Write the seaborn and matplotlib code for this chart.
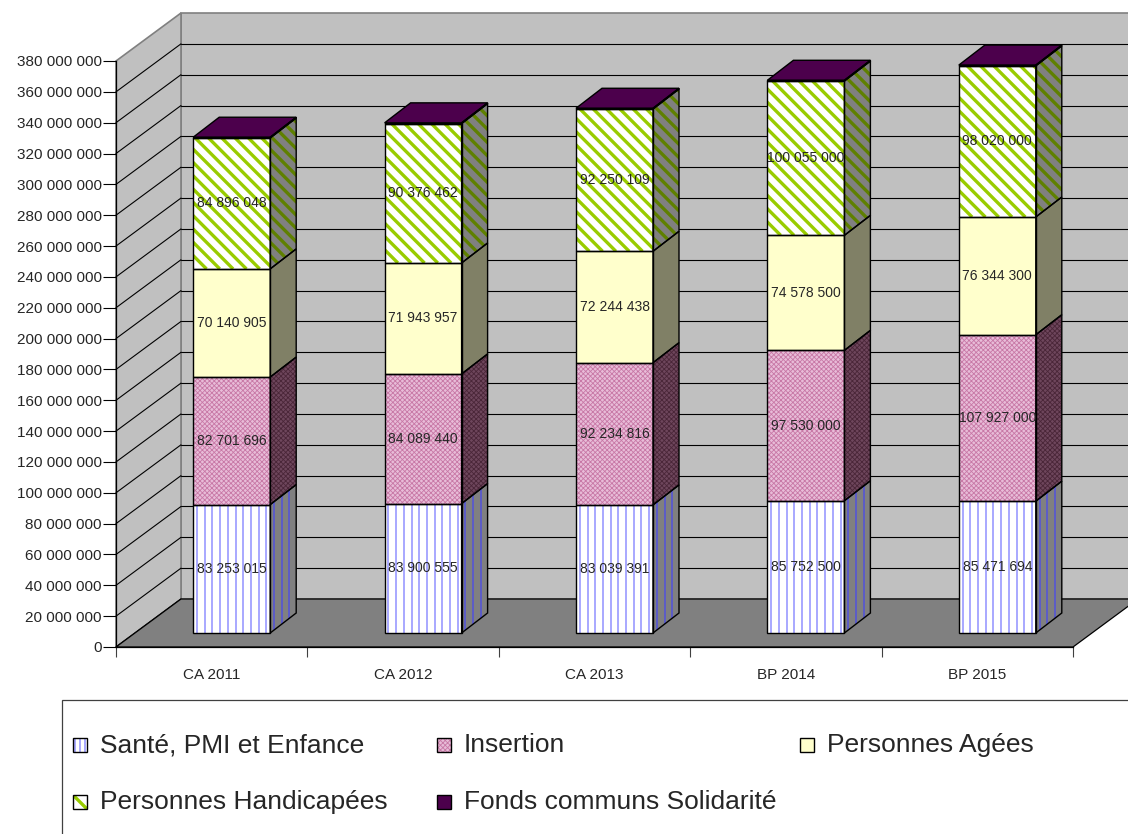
import numpy as np
import matplotlib
matplotlib.use("Agg")
import matplotlib.pyplot as plt
import seaborn as sns
from matplotlib.patches import Polygon, Rectangle
from matplotlib.collections import LineCollection

# data
categories = ["CA 2011", "CA 2012", "CA 2013", "BP 2014", "BP 2015"]
sante = [83253015, 83900555, 83039391, 85752500, 85471694]
insertion = [82701696, 84089440, 92234816, 97530000, 107927000]
agees = [70140905, 71943957, 72244438, 74578500, 76344300]
handicapees = [84896048, 90376462, 92250109, 100055000, 98020000]
fonds = [500000, 500000, 500000, 500000, 500000]
series_names = ["Santé, PMI et Enfance", "Insertion", "Personnes Agées",
                "Personnes Handicapées", "Fonds communs Solidarité"]
y_ticks = np.arange(0, 380000001, 20000000)

# look of each series: front colour, side colour, pattern, pattern colours
styles = [
    dict(fc="white", side="#808080", pat="|", pc="#a8a8ff", spc="#5c5cc8", lw=1.4, per=7.7),
    dict(fc="#e8bcd8", side="#6e465c", pat="xxxxxxx", pc="#c878a6", spc="#4a2638"),
    dict(fc="#ffffcc", side="#808066", pat=None),
    dict(fc="white", side="#808080", pat="\\", pc="#99cc00", spc="#5f8000", lw=2.4, per=13.3),
    dict(fc="#4c004c", side="#2a002a", pat=None),
]

sns.set_style("white")
plt.rcParams["font.family"] = ["Liberation Sans", "DejaVu Sans"]
plt.rcParams["hatch.linewidth"] = 0.6

W, H = 1128, 834
fig = plt.figure(figsize=(W / 100, H / 100), dpi=100)
AX_L, AX_R, AX_B, AX_T = 116, 1073, 647, 61
ax = fig.add_axes([AX_L / W, 1 - AX_B / H, (AX_R - AX_L) / W, (AX_B - AX_T) / H])
ux = 5 / (AX_R - AX_L)
uy = 380e6 / (AX_B - AX_T)

# 3d offsets in pixels -> data units
WDX, WDY = 65 * ux, 48 * uy
FDX, FDY = 20 * ux, 14 * uy
BDX, BDY = 26 * ux, 20 * uy
BAR_W = 77 * ux


def stripes(a, clip, xy, kind, color, lw, per, sx, sy, z):
    xs = [p[0] for p in xy]
    ys = [p[1] for p in xy]
    x0, x1, y0, y1 = min(xs), max(xs), min(ys), max(ys)
    segs = []
    if kind == "|":
        for x in np.arange(x0 + per * sx / 2, x1, per * sx):
            segs.append([(x, y0), (x, y1)])
    else:
        hpx = (y1 - y0) / sy
        for c in np.arange(x0 - hpx * sx, x1, per * sx):
            segs.append([(c, y1), (c + hpx * sx, y0)])
    lc = LineCollection(segs, colors=color, linewidths=lw, zorder=z)
    a.add_collection(lc, autolim=False)
    lc.set_clip_box(None)
    lc.set_clip_path(clip)


def face(a, xy, fc, st, pc_key, sx, sy, z):
    hatch = st["pat"] if st["pat"] not in (None, "|", "\\") else None
    p = Polygon(xy, closed=True, facecolor=fc, linewidth=0,
                edgecolor=st.get(pc_key, fc), hatch=hatch, zorder=z, clip_on=False)
    a.add_patch(p)
    if st["pat"] in ("|", "\\"):
        stripes(a, p, xy, st["pat"], st[pc_key], st["lw"], st["per"], sx, sy, z + 0.01)
    a.add_patch(Polygon(xy, closed=True, fill=False, edgecolor="black",
                        linewidth=1.0, zorder=z + 0.02, clip_on=False))


# walls and floor
top = y_ticks[-1]
ax.add_patch(Polygon([(-0.5 + WDX, WDY), (4.5 + WDX, WDY), (4.5 + WDX, top + WDY),
                      (-0.5 + WDX, top + WDY)], facecolor="#c0c0c0", edgecolor="#808080",
                     linewidth=1.2, zorder=0.1, clip_on=False))
ax.add_patch(Polygon([(-0.5, 0), (-0.5 + WDX, WDY), (-0.5 + WDX, top + WDY), (-0.5, top)],
                     facecolor="#c0c0c0", edgecolor="#808080", linewidth=1.2,
                     zorder=0.1, clip_on=False))
for t in y_ticks[:-1]:
    ax.plot([-0.5, -0.5 + WDX], [t, t + WDY], color="black", lw=0.8, zorder=0.2, clip_on=False)
    if t > 0:
        ax.plot([-0.5 + WDX, 4.5 + WDX], [t + WDY, t + WDY], color="black", lw=0.8,
                zorder=0.2, clip_on=False)
ax.add_patch(Polygon([(-0.5, 0), (4.5, 0), (4.5 + WDX, WDY), (-0.5 + WDX, WDY)],
                     facecolor="#808080", edgecolor="black", linewidth=0.9,
                     zorder=0.3, clip_on=False))

# stacked bars, front faces drawn by seaborn
pos = np.arange(len(categories)) + FDX
bottom = np.full(len(categories), FDY)
all_series = [sante, insertion, agees, handicapees, fonds]
for k, (vals, st) in enumerate(zip(all_series, styles)):
    hatch = st["pat"] if st["pat"] not in (None, "|", "\\") else None
    sns.barplot(x=pos, y=vals, native_scale=True, width=BAR_W, bottom=bottom.copy(),
                color=st["fc"], saturation=1, errorbar=None, linewidth=0,
                edgecolor=st.get("pc", st["fc"]), hatch=hatch, zorder=3, ax=ax)
    cont = ax.containers[-1]
    for rect, v in zip(cont, vals):
        x0, y0 = rect.get_x(), rect.get_y()
        w, h = rect.get_width(), rect.get_height()
        rect.set_clip_on(False)
        front = [(x0, y0), (x0 + w, y0), (x0 + w, y0 + h), (x0, y0 + h)]
        if st["pat"] in ("|", "\\"):
            stripes(ax, rect, front, st["pat"], st["pc"], st["lw"], st["per"], ux, uy, 3.01)
        ax.add_patch(Polygon(front, closed=True, fill=False, edgecolor="black",
                             linewidth=1.0, zorder=3.02, clip_on=False))
        side = [(x0 + w, y0), (x0 + w + BDX, y0 + BDY), (x0 + w + BDX, y0 + h + BDY),
                (x0 + w, y0 + h)]
        face(ax, side, st["side"], st, "spc", ux, uy, 3)
        if k == len(all_series) - 1:
            lid = [(x0, y0 + h), (x0 + BDX, y0 + h + BDY), (x0 + w + BDX, y0 + h + BDY),
                   (x0 + w, y0 + h)]
            face(ax, lid, st["fc"], st, "pc", ux, uy, 3)
        else:
            ax.text(x0 + w / 2, y0 + h / 2, f"{v:,.0f}".replace(",", " "),
                    ha="center", va="center", fontsize=10, zorder=4)
    bottom = bottom + np.array(vals)

# axes
ax.patch.set_visible(False)
ax.set_xlim(-0.5, 4.5)
ax.set_ylim(0, top)
ax.set_xlabel("")
ax.set_ylabel("")
ax.set_yticks(y_ticks)
ax.set_yticklabels([f"{t:,.0f}".replace(",", " ") for t in y_ticks])
ax.set_xticks(np.arange(len(categories)))
ax.set_xticklabels(categories)
ax.set_xticks(np.arange(-0.5, len(categories)), minor=True)
ax.tick_params(axis="y", length=9.4, width=0.8, color="black", labelsize=11, pad=1, left=True)
ax.tick_params(axis="x", which="major", length=0, labelsize=11, pad=15)
ax.tick_params(axis="x", which="minor", length=7.2, width=0.8, color="#404040", bottom=True)
for s in ["top", "right"]:
    ax.spines[s].set_visible(False)
for s in ["left", "bottom"]:
    ax.spines[s].set_color("black")
    ax.spines[s].set_linewidth(0.9)
    ax.spines[s].set_zorder(3.5)

# legend, laid out like the original in pixel space
lax = fig.add_axes([0, 0, 1, 1], zorder=5)
lax.set_xlim(0, W)
lax.set_ylim(0, H)
lax.axis("off")
lax.add_patch(Rectangle((62, -10), W, H - 700 + 10, fill=False, edgecolor="#404040",
                        linewidth=0.9))
leg_pos = [(73, 745), (437, 745), (800, 745), (73, 802), (437, 802)]
SW = 14
for name, st, (lx, ly) in zip(series_names, styles, leg_pos):
    yb = H - ly - SW / 2
    sq = [(lx, yb), (lx + SW, yb), (lx + SW, yb + SW), (lx, yb + SW)]
    leg_st = dict(st)
    if st["pat"] == "|":
        leg_st["per"] = 4.7
    if st["pat"] == "\\":
        leg_st["per"] = 14
    face(lax, sq, st["fc"], leg_st, "pc", 1, 1, 1)
    lax.text(lx + 27, H - ly, name, ha="left", va="center", fontsize=19)

fig.savefig("out.png", dpi=100, facecolor="white")
